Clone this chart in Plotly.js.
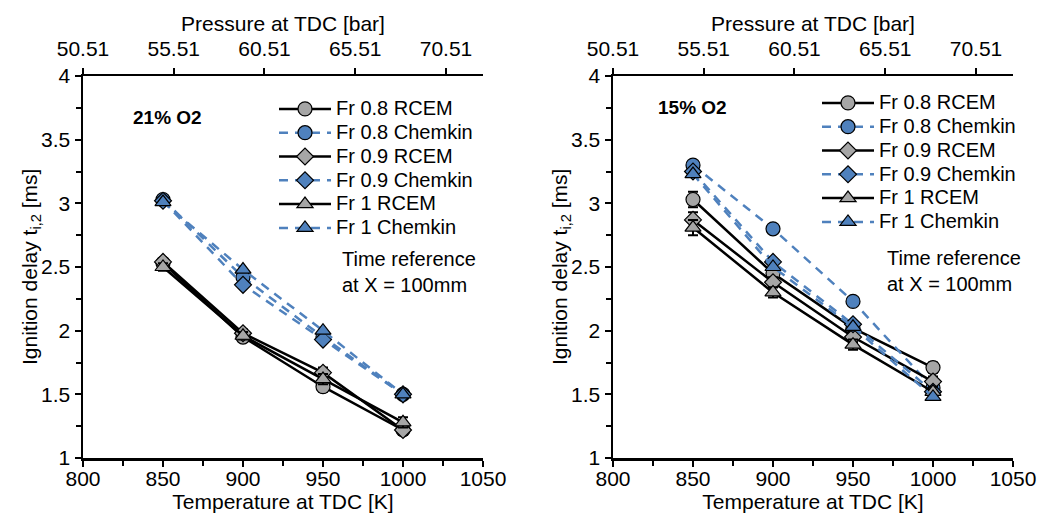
<!DOCTYPE html>
<html>
<head>
<meta charset="utf-8">
<script src="https://cdn.plot.ly/plotly-3.0.1.min.js"></script>
<style>html,body{margin:0;padding:0;background:#fff;}#chart{width:1038px;height:521px;}</style>
</head>
<body>
<div id="chart"></div>
<script>
// ---- data ----
const temps = [850, 900, 950, 1000];
const pressureTicks = [50.51, 55.51, 60.51, 65.51, 70.51];
const seriesNames = ["Fr 0.8 RCEM", "Fr 0.8 Chemkin", "Fr 0.9 RCEM", "Fr 0.9 Chemkin", "Fr 1 RCEM", "Fr 1 Chemkin"];

// Left panel: 21% O2
const left_fr08_rcem    = [2.53, 1.95, 1.56, 1.22];
const left_fr08_chemkin = [3.03, 2.42, 1.95, 1.50];
const left_fr09_rcem    = [2.54, 1.98, 1.67, 1.22];
const left_fr09_chemkin = [3.02, 2.36, 1.93, 1.50];
const left_fr1_rcem     = [2.50, 1.96, 1.62, 1.28];
const left_fr1_chemkin  = [3.01, 2.48, 2.00, 1.50];
const left_err          = [0.03, 0.03, 0.04, 0.04];

// Right panel: 15% O2
const right_fr08_rcem    = [3.03, 2.45, 2.02, 1.71];
const right_fr08_chemkin = [3.30, 2.80, 2.23, 1.55];
const right_fr09_rcem    = [2.87, 2.38, 1.95, 1.60];
const right_fr09_chemkin = [3.25, 2.54, 2.05, 1.52];
const right_fr1_rcem     = [2.81, 2.30, 1.89, 1.52];
const right_fr1_chemkin  = [3.23, 2.50, 2.03, 1.48];
const right_err          = [0.06, 0.04, 0.04, 0.04];

// ---- styles ----
const FONT = "Liberation Sans, Arial, sans-serif";
const BLUE = "#4F81BD";
const GRAY = "#A6A6A6";
const symbols = ["circle", "circle", "diamond", "diamond", "triangle-up", "triangle-up"];

function mk(x, y, i, xa, ya, leg, err) {
  const rcem = (i % 2 === 0);
  const t = {
    x: x, y: y, name: '<span style="font-size:20px">' + seriesNames[i] + '</span>',
    type: "scatter", mode: "lines+markers",
    xaxis: xa, yaxis: ya, legend: leg,
    line: rcem ? {color: "#000", width: 2.5} : {color: BLUE, width: 2.5, dash: "9px,7px"},
    marker: {symbol: symbols[i], size: symbols[i] === "diamond" ? 13 : 14,
             color: rcem ? GRAY : BLUE, line: {color: "#000", width: 1.2}},
    hoverinfo: "x+y"
  };
  if (rcem && err) {
    t.error_y = {type: "data", array: err, visible: true, color: "#000", thickness: 2, width: 5};
  }
  return t;
}

const leftSets = [left_fr08_rcem, left_fr08_chemkin, left_fr09_rcem, left_fr09_chemkin, left_fr1_rcem, left_fr1_chemkin];
const rightSets = [right_fr08_rcem, right_fr08_chemkin, right_fr09_rcem, right_fr09_chemkin, right_fr1_rcem, right_fr1_chemkin];

const data = [];
leftSets.forEach((s, i) => data.push(mk(temps, s, i, "x", "y", "legend", left_err)));
rightSets.forEach((s, i) => data.push(mk(temps, s, i, "x2", "y2", "legend2", right_err)));
// hidden traces to attach the top pressure axes
data.push({x: [pressureTicks[0]], y: [null], xaxis: "x3", yaxis: "y", showlegend: false, hoverinfo: "skip", mode: "markers"});
data.push({x: [pressureTicks[0]], y: [null], xaxis: "x4", yaxis: "y2", showlegend: false, hoverinfo: "skip", mode: "markers"});

const W = 1038, H = 521;
const yDom = [(H - 458) / H, (H - 76) / H];
const lDom = [83 / W, 483 / W];
const rDom = [613 / W, 1013 / W];

const tickFont = {family: FONT, size: 21, color: "#000"};
const titleFont = {family: FONT, size: 21, color: "#000"};

function xBottom(dom, anchor) {
  return {
    domain: dom, anchor: anchor, range: [800, 1050], tickmode: "array",
    tickvals: [800, 850, 900, 950, 1000, 1050], ticks: "outside", ticklen: 6, tickwidth: 2, tickcolor: "#000",
    minor: {tickmode: "array", tickvals: [825, 875, 925, 975, 1025], ticks: "outside", ticklen: 5, tickwidth: 2, tickcolor: "#000"},
    showline: true, linecolor: "#000", linewidth: 2.5, showgrid: false, zeroline: false,
    ticklabelstandoff: -6,
    tickfont: tickFont, title: {text: "Temperature at TDC [K]", font: titleFont, standoff: 3}
  };
}
function xTop(dom, overlay, anchor) {
  return {
    domain: dom, overlaying: overlay, anchor: anchor, side: "top", range: [50.51, 72.55],
    tickmode: "array", tickvals: pressureTicks, ticktext: pressureTicks.map(v => v.toFixed(2)),
    ticks: "outside", ticklen: 6, tickwidth: 2, tickcolor: "#000",
    showline: true, linecolor: "#000", linewidth: 2.5, showgrid: false, zeroline: false,
    ticklabelstandoff: 3,
    tickfont: tickFont, title: {text: "Pressure at TDC [bar]", font: titleFont, standoff: 0}
  };
}
function yAxis(anchor) {
  return {
    domain: yDom, anchor: anchor, range: [1, 4], tickmode: "array",
    tickvals: [1, 1.5, 2, 2.5, 3, 3.5, 4], ticktext: ["1", "1.5", "2", "2.5", "3", "3.5", "4"],
    ticks: "outside", ticklen: 6, tickwidth: 2, tickcolor: "#000",
    minor: {tickmode: "array", tickvals: [1.25, 1.75, 2.25, 2.75, 3.25, 3.75], ticks: "outside", ticklen: 5, tickwidth: 2, tickcolor: "#000"},
    showline: true, linecolor: "#000", linewidth: 2.5, showgrid: false, zeroline: false,
    ticklabelstandoff: 0,
    tickfont: tickFont
  };
}

const legendStyle = {
  bgcolor: "rgba(0,0,0,0)", borderwidth: 0, font: {family: FONT, size: 16, color: "#000"},
  itemwidth: 52, tracegroupgap: 0, xanchor: "left", yanchor: "top", traceorder: "normal"
};

const yTitle = "Ignition delay t<sub>i,2</sub> [ms]";

const layout = {
  width: W, height: H, margin: {l: 0, r: 0, t: 0, b: 0},
  paper_bgcolor: "#fff", plot_bgcolor: "rgba(0,0,0,0)",
  font: {family: FONT, size: 20, color: "#000"},
  xaxis: xBottom(lDom, "y"),
  xaxis2: xBottom(rDom, "y2"),
  xaxis3: xTop(lDom, "x", "y"),
  xaxis4: xTop(rDom, "x2", "y2"),
  yaxis: yAxis("x"),
  yaxis2: yAxis("x2"),
  legend: Object.assign({x: 274 / W, y: (H - 92) / H}, legendStyle),
  legend2: Object.assign({x: 817 / W, y: (H - 86) / H}, legendStyle),
  annotations: [
    {text: yTitle, x: 31 / W, y: (H - 267) / H, xref: "paper", yref: "paper", xanchor: "center", yanchor: "middle", textangle: -90, showarrow: false, font: titleFont},
    {text: yTitle, x: 561 / W, y: (H - 267) / H, xref: "paper", yref: "paper", xanchor: "center", yanchor: "middle", textangle: -90, showarrow: false, font: titleFont},
    {text: "<b>21% O2</b>", x: 167 / W, y: (H - 117) / H, xref: "paper", yref: "paper", xanchor: "center", yanchor: "middle", showarrow: false, font: {family: FONT, size: 19, color: "#000"}},
    {text: "<b>15% O2</b>", x: 692 / W, y: (H - 107) / H, xref: "paper", yref: "paper", xanchor: "center", yanchor: "middle", showarrow: false, font: {family: FONT, size: 19, color: "#000"}},
    {text: "Time reference<br>at X = 100mm", x: 340 / W, y: (H - 272) / H, xref: "paper", yref: "paper", xanchor: "left", yanchor: "middle", align: "left", showarrow: false, font: {family: FONT, size: 20, color: "#000"}},
    {text: "Time reference<br>at X = 100mm", x: 885 / W, y: (H - 271) / H, xref: "paper", yref: "paper", xanchor: "left", yanchor: "middle", align: "left", showarrow: false, font: {family: FONT, size: 20, color: "#000"}}
  ],
  showlegend: true
};

Plotly.newPlot("chart", data, layout, {displayModeBar: false, staticPlot: true});
</script>
</body>
</html>
